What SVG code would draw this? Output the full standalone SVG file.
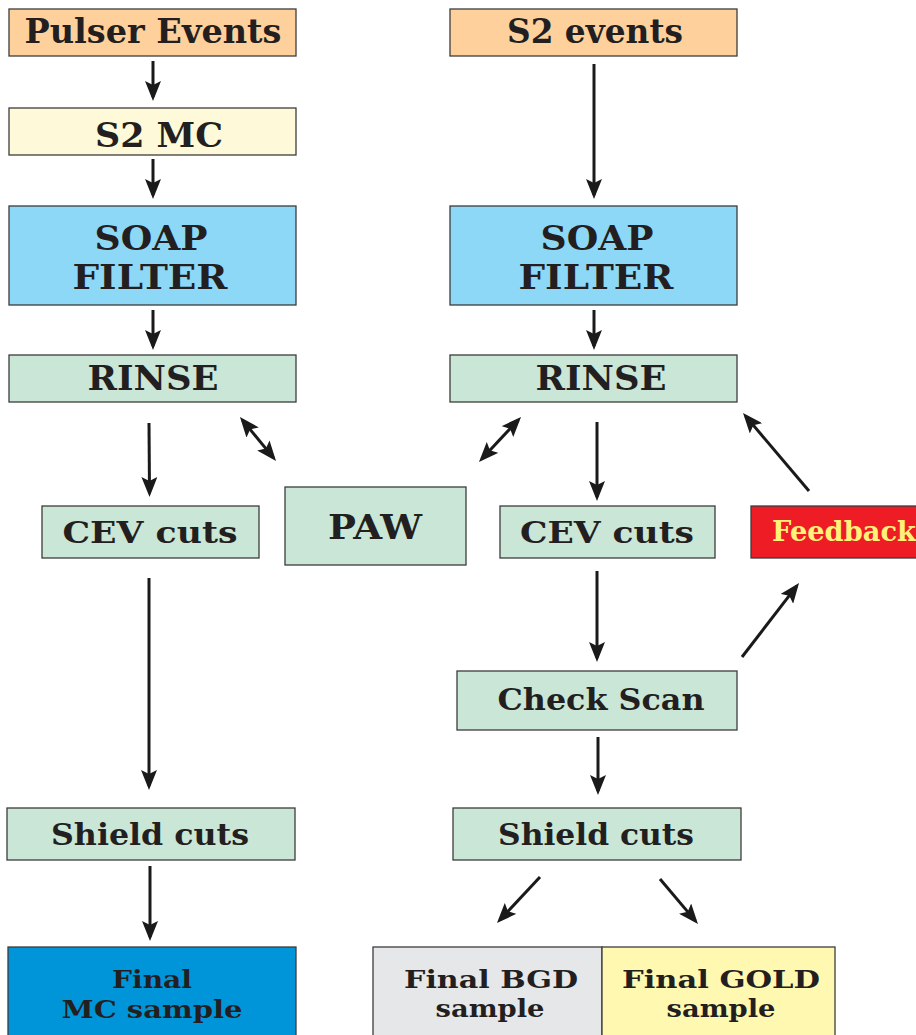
<svg xmlns="http://www.w3.org/2000/svg" width="916" height="1035" viewBox="0 0 916 1035">
<style>
.box{stroke:#3c3c3c;stroke-width:1.3}
.t{font-family:"DejaVu Serif","Liberation Serif",serif;font-weight:bold;fill:#231f20;text-anchor:middle}
.big{font-size:34px}
.mid{font-size:30px}
.fin{font-size:25px}
.arr{stroke:#1a1a1a;stroke-width:3;fill:none;marker-end:url(#ah)}
.dbl{stroke:#1a1a1a;stroke-width:3;fill:none;marker-end:url(#ah);marker-start:url(#ah)}
</style>
<defs>
<marker id="ah" viewBox="0 0 20 16" refX="16" refY="8" markerWidth="20" markerHeight="16" markerUnits="userSpaceOnUse" orient="auto-start-reverse">
<path d="M0,0 L20,8 L0,16 L4,8 z" fill="#1a1a1a"/>
</marker>
</defs>
<rect width="916" height="1035" fill="#ffffff"/>

<g id="pulser">
<rect class="box" x="9" y="9" width="287" height="47" fill="#fed09c"/>
<text class="t big" x="153" y="43" textLength="257" lengthAdjust="spacingAndGlyphs">Pulser Events</text>
</g>
<g id="s2events">
<rect class="box" x="450" y="9" width="287" height="47" fill="#fed09c"/>
<text class="t big" x="595" y="43" textLength="176" lengthAdjust="spacingAndGlyphs">S2 events</text>
</g>
<g id="s2mc">
<rect class="box" x="9" y="108" width="287" height="47" fill="#fef9d8"/>
<text class="t big" x="159" y="147" textLength="128" lengthAdjust="spacingAndGlyphs">S2 MC</text>
</g>
<g id="soapL">
<rect class="box" x="9" y="206" width="287" height="99" fill="#8ed8f7"/>
<text class="t big" x="151" y="250" textLength="113" lengthAdjust="spacingAndGlyphs">SOAP</text>
<text class="t big" x="150" y="289" textLength="155" lengthAdjust="spacingAndGlyphs">FILTER</text>
</g>
<g id="soapR">
<rect class="box" x="450" y="206" width="287" height="99" fill="#8ed8f7"/>
<text class="t big" x="597" y="250" textLength="113" lengthAdjust="spacingAndGlyphs">SOAP</text>
<text class="t big" x="596" y="289" textLength="155" lengthAdjust="spacingAndGlyphs">FILTER</text>
</g>
<g id="rinseL">
<rect class="box" x="9" y="355" width="287" height="47" fill="#cae6d6"/>
<text class="t big" x="153" y="390" textLength="131" lengthAdjust="spacingAndGlyphs">RINSE</text>
</g>
<g id="rinseR">
<rect class="box" x="450" y="355" width="287" height="47" fill="#cae6d6"/>
<text class="t big" x="601" y="390" textLength="131" lengthAdjust="spacingAndGlyphs">RINSE</text>
</g>
<g id="cevL">
<rect class="box" x="42" y="506" width="217" height="52" fill="#cae6d6"/>
<text class="t mid" x="150" y="543" textLength="175" lengthAdjust="spacingAndGlyphs">CEV cuts</text>
</g>
<g id="paw">
<rect class="box" x="285" y="487" width="181" height="78" fill="#cae6d6"/>
<text class="t big" x="375" y="539" textLength="94" lengthAdjust="spacingAndGlyphs">PAW</text>
</g>
<g id="cevR">
<rect class="box" x="500" y="506" width="215" height="52" fill="#cae6d6"/>
<text class="t mid" x="607" y="543" textLength="174" lengthAdjust="spacingAndGlyphs">CEV cuts</text>
</g>
<g id="feedback">
<rect class="box" x="751" y="506" width="170" height="52" fill="#ee1c25"/>
<text class="t" x="844" y="541" font-size="27" style="fill:#fff27a" textLength="144" lengthAdjust="spacingAndGlyphs">Feedback</text>
</g>
<g id="checkscan">
<rect class="box" x="457" y="671" width="280" height="59" fill="#cae6d6"/>
<text class="t mid" x="601" y="710" textLength="207" lengthAdjust="spacingAndGlyphs">Check Scan</text>
</g>
<g id="shieldL">
<rect class="box" x="7" y="808" width="288" height="52" fill="#cae6d6"/>
<text class="t mid" x="150" y="845" textLength="198" lengthAdjust="spacingAndGlyphs">Shield cuts</text>
</g>
<g id="shieldR">
<rect class="box" x="453" y="808" width="288" height="52" fill="#cae6d6"/>
<text class="t mid" x="596" y="845" textLength="196" lengthAdjust="spacingAndGlyphs">Shield cuts</text>
</g>
<g id="finalMC">
<rect class="box" x="8" y="947" width="288" height="95" fill="#0095d9"/>
<text class="t fin" x="152" y="988" textLength="80" lengthAdjust="spacingAndGlyphs">Final</text>
<text class="t fin" x="152" y="1018" textLength="181" lengthAdjust="spacingAndGlyphs">MC sample</text>
</g>
<g id="finalBGD">
<rect class="box" x="373" y="947" width="229" height="95" fill="#e6e7e9"/>
<text class="t fin" x="491" y="988" textLength="174" lengthAdjust="spacingAndGlyphs">Final BGD</text>
<text class="t fin" x="490" y="1017" textLength="109" lengthAdjust="spacingAndGlyphs">sample</text>
</g>
<g id="finalGOLD">
<rect class="box" x="602" y="947" width="233" height="95" fill="#fff8b0"/>
<text class="t fin" x="721" y="988" textLength="198" lengthAdjust="spacingAndGlyphs">Final GOLD</text>
<text class="t fin" x="721" y="1017" textLength="109" lengthAdjust="spacingAndGlyphs">sample</text>
</g>

<g id="connectors">
<line class="arr" x1="153" y1="61" x2="153" y2="97"/>
<line class="arr" x1="153" y1="159" x2="153" y2="195"/>
<line class="arr" x1="594" y1="64" x2="594" y2="195"/>
<line class="arr" x1="153" y1="310" x2="153" y2="346"/>
<line class="arr" x1="594" y1="310" x2="594" y2="346"/>
<line class="arr" x1="149" y1="423" x2="149.5" y2="493"/>
<line class="dbl" x1="242.5" y1="420.1" x2="273.5" y2="457.9"/>
<line class="dbl" x1="518.3" y1="419.9" x2="481.7" y2="459.1"/>
<line class="arr" x1="597" y1="422" x2="597" y2="497"/>
<line class="arr" x1="809" y1="491" x2="745.6" y2="416.1"/>
<line class="arr" x1="597" y1="571" x2="597" y2="658"/>
<line class="arr" x1="742" y1="657" x2="796.6" y2="586.2"/>
<line class="arr" x1="598" y1="737" x2="598" y2="791"/>
<line class="arr" x1="149" y1="578" x2="149" y2="786"/>
<line class="arr" x1="150" y1="866" x2="150" y2="937"/>
<line class="arr" x1="540" y1="877" x2="499.7" y2="920.1"/>
<line class="arr" x1="660" y1="879" x2="695.4" y2="920.9"/>
</g>
</svg>
